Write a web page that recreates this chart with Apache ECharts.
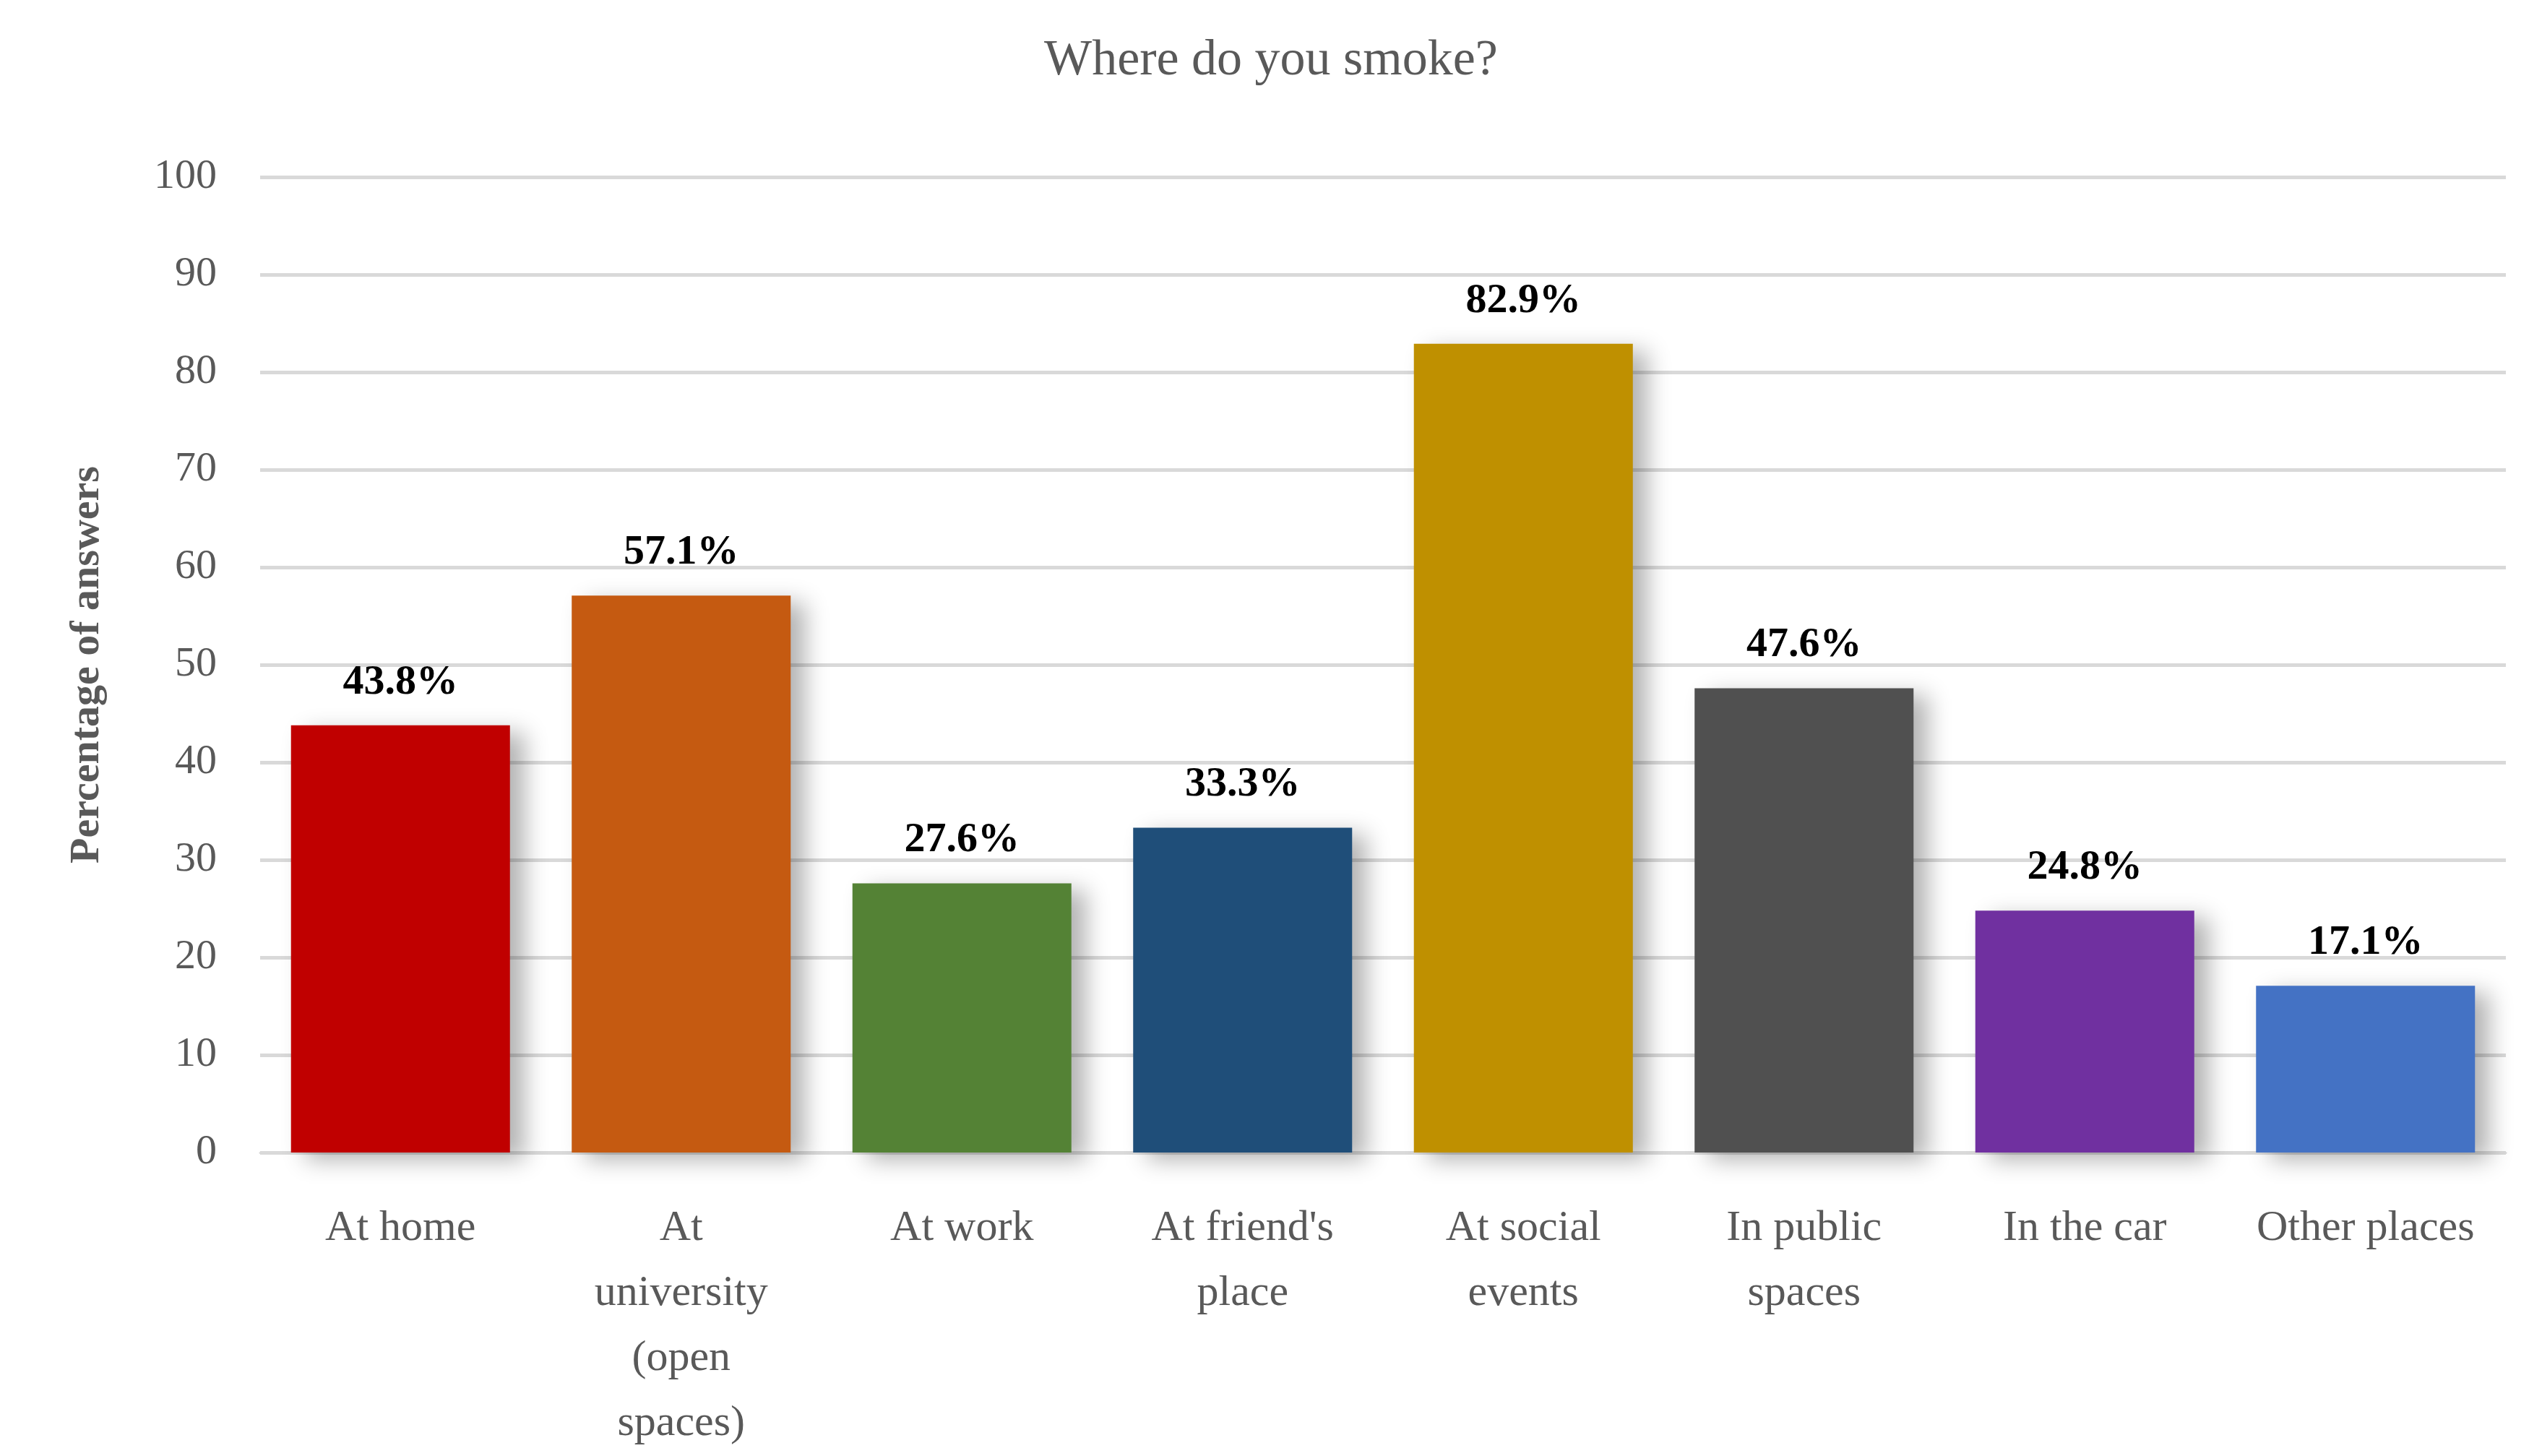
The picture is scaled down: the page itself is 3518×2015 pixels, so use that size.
<!DOCTYPE html>
<html>
<head>
<meta charset="utf-8">
<script src="https://cdn.jsdelivr.net/npm/echarts@6/dist/echarts.min.js"></script>
<style>html,body{margin:0;padding:0;background:#fff}#chart{width:3518px;height:2015px}</style>
</head>
<body>
<div id="chart"></div>
<script>
var categories = ['At home', 'At\nuniversity\n(open\nspaces)', 'At work', "At friend's\nplace", 'At social\nevents', 'In public\nspaces', 'In the car', 'Other places'];
var values = [43.8, 57.1, 27.6, 33.3, 82.9, 47.6, 24.8, 17.1];
var colors = ['#C00000', '#C55A11', '#548235', '#1F4E79', '#BF9000', '#505050', '#7030A0', '#4472C4'];
var yTicks = {min: 0, max: 100, interval: 10};

var font = '"Liberation Serif", "DejaVu Serif", serif';
var chart = echarts.init(document.getElementById('chart'));
chart.setOption({
  title: {
    text: 'Where do you smoke?', left: 'center', top: 45,
    textStyle: {fontFamily: font, fontSize: 70, fontWeight: 'normal', color: '#595959'}
  },
  grid: {left: 360, right: 50, top: 245, bottom: 420},
  xAxis: {
    type: 'category', data: categories,
    axisLine: {lineStyle: {color: '#d9d9d9', width: 3}},
    axisTick: {show: false},
    axisLabel: {fontFamily: font, fontSize: 60, color: '#595959', margin: 60, lineHeight: 90, interval: 0}
  },
  yAxis: {
    type: 'value', min: yTicks.min, max: yTicks.max, interval: yTicks.interval,
    name: 'Percentage of answers', nameLocation: 'middle', nameGap: 210,
    nameTextStyle: {fontFamily: font, fontSize: 58, fontWeight: 'bold', color: '#595959'},
    axisLabel: {fontFamily: font, fontSize: 58, color: '#595959', margin: 60},
    splitLine: {lineStyle: {color: '#d9d9d9', width: 5}}
  },
  series: [{
    type: 'bar', barWidth: '78%',
    data: values.map(function (v, i) {
      return {value: v, itemStyle: {color: colors[i]}};
    }),
    itemStyle: {shadowBlur: 30, shadowColor: 'rgba(0,0,0,0.3)', shadowOffsetX: 20, shadowOffsetY: 10},
    label: {
      show: true, position: 'top', distance: 30,
      formatter: function (p) { return p.value.toFixed(1) + '%'; },
      fontFamily: font, fontSize: 58, fontWeight: 'bold', color: '#000'
    }
  }]
});
</script>
</body>
</html>
